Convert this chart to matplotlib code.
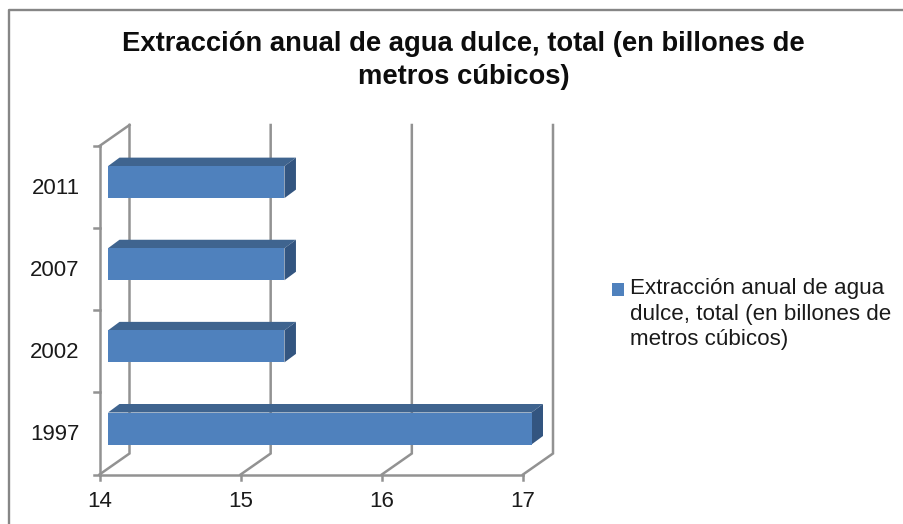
import matplotlib
matplotlib.use("Agg")
import matplotlib.pyplot as plt
from matplotlib.patches import Polygon, Patch
from matplotlib.lines import Line2D

plt.rcParams['font.family'] = ['Liberation Sans', 'DejaVu Sans']

title = "Extracción anual de agua dulce, total (en billones de\nmetros cúbicos)"
series_name = "Extracción anual de agua\ndulce, total (en billones de\nmetros cúbicos)"
years = ["1997", "2002", "2007", "2011"]
values = [17.0, 15.25, 15.25, 15.25]
x_ticks = [14, 15, 16, 17]

W, H = 904, 524
fig = plt.figure(figsize=(W / 100, H / 100), dpi=100, facecolor="white")

# front plane of the 3-D box, in pixels
L, R, T, B = 99.5, 523.0, 146.0, 474.5
ax = fig.add_axes([L / W, 1 - B / H, (R - L) / W, (B - T) / H])
ax.set_xlim(14, 17)
ax.set_ylim(0, 4)
ax.axis("off")

px = (R - L) / 3          # pixels per x unit
py = (B - T) / 4          # pixels per category
DX, DY = 30.0 / px, 21.0 / py   # wall depth in data units
GREY = "#929292"
lw = 1.8


def line(xs, ys, **kw):
    ax.add_line(Line2D(xs, ys, color=GREY, lw=kw.pop("lw", lw), clip_on=False,
                       solid_capstyle="projecting", solid_joinstyle="miter", **kw))


# back wall gridlines and floor diagonals
for t in x_ticks:
    line([t, t + DX, t + DX], [0, DY, 4 + DY])
    line([t, t], [0, -5 / py])
# front-left axis, top diagonal, floor front edge
line([14, 14], [0, 4])
line([14, 14 + DX], [4, 4 + DY])
line([14, 17], [0, 0])
for i in range(5):
    line([14 - 6 / px, 14], [i, i])

# bars
bx0 = 14 + 8.5 / px
bdx, bdy = 11.5 / px, 8.5 / py
bh = 32.0 / py
for i, (year, v) in enumerate(zip(years, values)):
    y0 = i + 30.0 / py
    y1 = y0 + bh
    xr = v + 8.5 / px
    ax.add_patch(Polygon([(bx0, y1), (xr, y1), (xr + bdx, y1 + bdy), (bx0 + bdx, y1 + bdy)],
                         fc="#3F648F", ec="none", clip_on=False, zorder=3))
    ax.add_patch(Polygon([(xr, y0), (xr + bdx, y0 + bdy), (xr + bdx, y1 + bdy), (xr, y1)],
                         fc="#335580", ec="none", clip_on=False, zorder=3))
    ax.add_patch(Polygon([(bx0, y0), (xr, y0), (xr, y1), (bx0, y1)],
                         fc="#4F81BD", ec="none", clip_on=False, zorder=4))
    ax.text(14 - 20 / px, i + 40 / py, year, ha="right", va="center",
            fontsize=16, color="#1a1a1a")

for t in x_ticks:
    ax.text(t, -27 / py, str(t), ha="center", va="center", fontsize=16, color="#1a1a1a")

fig.text(463.5 / W, 1 - 60.5 / H, title, ha="center", va="center", fontsize=19.7,
         fontweight="bold", color="#0d0d0d", linespacing=1.36)

handle = Patch(fc="#4F81BD", ec="none")
leg = fig.legend([handle], [series_name], loc="upper left",
                 bbox_to_anchor=(605 / W, 1 - 271.5 / H), frameon=False, fontsize=16.1,
                 handlelength=0.54, handleheight=0.47, handletextpad=0.27,
                 labelspacing=0, borderpad=0.3, borderaxespad=0, labelcolor="#1a1a1a")
leg.get_texts()[0].set_linespacing(1.29)
h = leg.legend_handles[0]
h.set_y(h.get_y() + 18)

# chart frame
fig.add_artist(Line2D([8.5 / W, 8.5 / W, 1], [0, 1 - 9.5 / H, 1 - 9.5 / H],
                      color="#868686", lw=1.7, transform=fig.transFigure))

fig.savefig("out.png", dpi=100, facecolor="white")
